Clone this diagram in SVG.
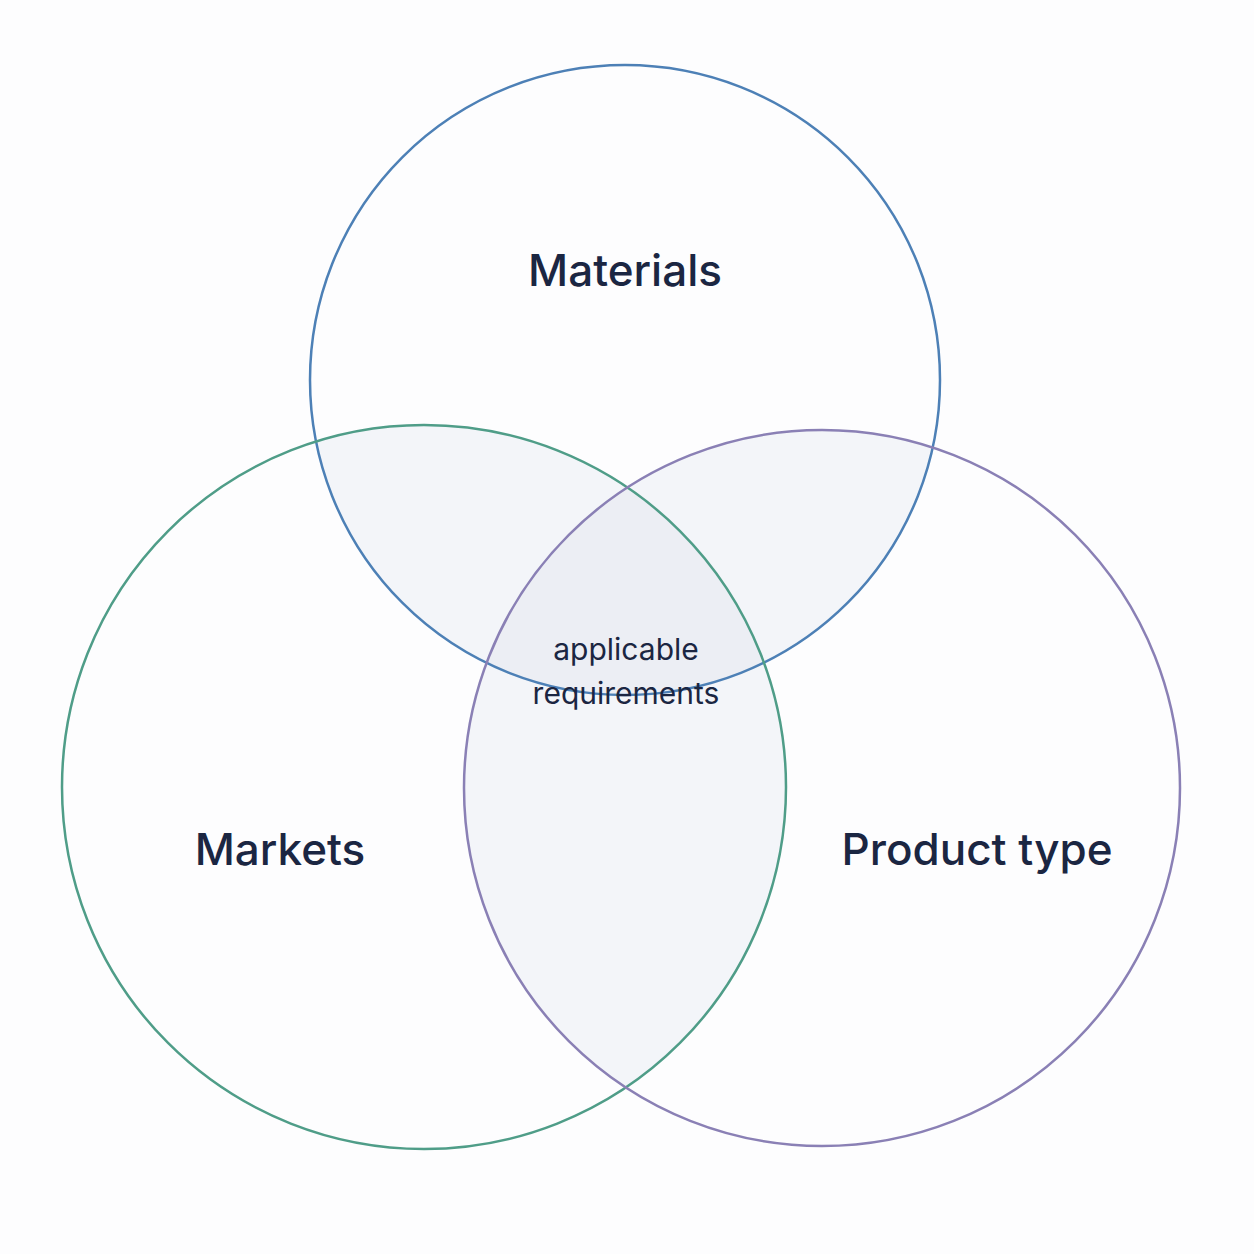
<svg xmlns="http://www.w3.org/2000/svg" width="1254" height="1254" viewBox="0 0 1254 1254">
<style>
.c{fill:none;stroke-width:2.5}
.lbl{font-family:Inter,"Liberation Sans",sans-serif;fill:#1b2642;text-anchor:middle}
.big{font-size:44px;font-weight:500}
.small{font-size:30px}
</style>
<defs>
<clipPath id="cT"><circle cx="625" cy="380" r="315"/></clipPath>
<clipPath id="cL"><circle cx="424" cy="787" r="362"/></clipPath>
<clipPath id="cR"><circle cx="822" cy="788" r="358"/></clipPath>
</defs>
<rect width="1254" height="1254" fill="#fdfdfe"/>
<g id="overlaps">
<g clip-path="url(#cT)"><circle cx="424" cy="787" r="362" fill="#f3f5f9"/><circle cx="822" cy="788" r="358" fill="#f3f5f9"/></g>
<g clip-path="url(#cL)"><circle cx="822" cy="788" r="358" fill="#f3f5f9"/></g>
<g clip-path="url(#cT)"><g clip-path="url(#cL)"><circle cx="822" cy="788" r="358" fill="#eceef4"/></g></g>
</g>
<g id="materials"><circle class="c" cx="625" cy="380" r="315" stroke="#4d80b6"/><text class="lbl big" x="625" y="286">Materials</text></g>
<g id="markets"><circle class="c" cx="424" cy="787" r="362" stroke="#4f9d88"/><text class="lbl big" x="280" y="865">Markets</text></g>
<g id="product"><circle class="c" cx="822" cy="788" r="358" stroke="#8a80b5"/><text class="lbl big" x="977" y="865">Product type</text></g>
<g id="center"><text class="lbl small" x="626" y="660">applicable</text><text class="lbl small" x="626" y="704">requirements</text></g>
</svg>
